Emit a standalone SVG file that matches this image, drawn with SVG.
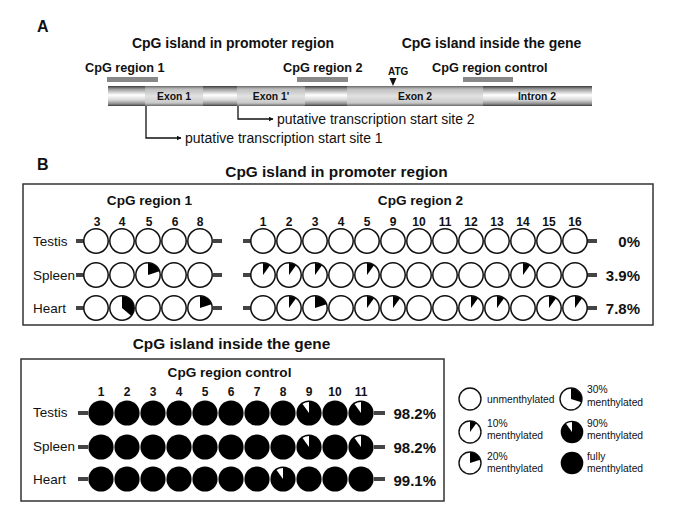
<svg xmlns="http://www.w3.org/2000/svg" xmlns:xlink="http://www.w3.org/1999/xlink" width="685" height="522" viewBox="0 0 685 522">
<style>
text{font-family:"Liberation Sans",Arial,sans-serif;fill:#111}
.b{font-weight:bold}
.panel{font-size:16px;font-weight:bold}
.tA{font-size:14px;font-weight:bold}
.tB{font-size:15.4px;font-weight:bold}
.rA{font-size:12.7px;font-weight:bold}
.rB{font-size:13.6px;font-weight:bold}
.ex{font-size:10.4px;font-weight:bold}
.num{font-size:12px;font-weight:bold;text-anchor:middle}
.row{font-size:13.5px}
.pct{font-size:15px;font-weight:bold;text-anchor:end}
.lg{font-size:10.3px}
.site{font-size:14px}
.cg{fill:#888}
.c{fill:#fff;stroke:#111;stroke-width:1.5}
.lc{fill:#fff;stroke:#111;stroke-width:1.4}
.k{fill:#000}
.tick{stroke:#444;stroke-width:4}
.box{fill:none;stroke:#333;stroke-width:1.5}
.cn{fill:none;stroke:#111;stroke-width:1.3}
</style>
<defs>
<linearGradient id="cyl" x1="0" y1="0" x2="0" y2="1">
<stop offset="0" stop-color="#3a3a3a"/><stop offset="0.15" stop-color="#9a9a9a"/><stop offset="0.45" stop-color="#ffffff"/><stop offset="0.7" stop-color="#d8d8d8"/><stop offset="0.9" stop-color="#8a8a8a"/><stop offset="1" stop-color="#3a3a3a"/>
</linearGradient>
<linearGradient id="exn" x1="0" y1="0" x2="0" y2="1">
<stop offset="0" stop-color="#6a6a6a"/><stop offset="0.15" stop-color="#bdbdbd"/><stop offset="0.5" stop-color="#e2e2e2"/><stop offset="0.85" stop-color="#c8c8c8"/><stop offset="1" stop-color="#6a6a6a"/>
</linearGradient>
<marker id="ar" viewBox="0 0 10 10" refX="9" refY="5" markerWidth="5" markerHeight="5" orient="auto" markerUnits="userSpaceOnUse">
<path d="M0,0 L10,5 L0,10 Z" fill="#111"/>
</marker>
<path id="w10" class="k" d="M0,0 V-12 A12,12 0 0 1 7.05,-9.71 Z"/>
<path id="w20" class="k" d="M0,0 V-12 A12,12 0 0 1 11.41,-3.71 Z"/>
<path id="w30" class="k" d="M0,0 V-12 A12,12 0 0 1 11.41,3.71 Z"/>
<path id="w36" class="k" d="M0,0 V-12 A12,12 0 0 1 9.19,7.71 Z"/>
<path id="ww" fill="#fff" d="M0,0 L-6.47,-8.9 A11,11 0 0 1 0,-11 Z"/>
</defs>
<rect width="685" height="522" fill="#fff"/>

<g id="panelA">
<text class="panel" x="37" y="32">A</text>
<text class="tA" x="233" y="48" text-anchor="middle">CpG island in promoter region</text>
<text class="tA" x="491.5" y="48" text-anchor="middle">CpG island inside the gene</text>
<g id="cpg1"><text class="rA" x="85" y="72">CpG region 1</text><rect class="cg" x="107" y="77" width="51" height="5"/></g>
<g id="cpg2"><text class="rA" x="283" y="72">CpG region 2</text><rect class="cg" x="297" y="77" width="51" height="5"/></g>
<g id="cpgc"><text class="rA" x="432" y="72">CpG region control</text><rect class="cg" x="463" y="77" width="50" height="5"/></g>
<g id="atg"><text class="b" x="388" y="75" font-size="10">ATG</text><polygon points="389.5,78 396.5,78 393,86" fill="#111"/></g>
<g id="gene">
<rect x="108" y="86" width="37" height="20" fill="url(#cyl)"/>
<g id="exon1"><rect x="145" y="86" width="58" height="20" fill="url(#exn)"/><text class="ex" x="174" y="100" text-anchor="middle">Exon 1</text></g>
<rect x="203" y="86" width="34" height="20" fill="url(#cyl)"/>
<g id="exon1p"><rect x="237" y="86" width="68" height="20" fill="url(#exn)"/><text class="ex" x="271" y="100" text-anchor="middle">Exon 1'</text></g>
<rect x="305" y="86" width="42" height="20" fill="url(#cyl)"/>
<g id="exon2"><rect x="347" y="86" width="136" height="20" fill="url(#exn)"/><text class="ex" x="415" y="100" text-anchor="middle">Exon 2</text></g>
<g id="intron2"><rect x="483" y="86" width="109" height="20" fill="url(#cyl)"/><text class="ex" x="537" y="100" text-anchor="middle">Intron 2</text></g>
</g>
<g id="connectors">
<path class="cn" d="M146,106 V138 H181" marker-end="url(#ar)"/>
<path class="cn" d="M238,106 V119 H273" marker-end="url(#ar)"/>
</g>
<text class="site" x="277" y="124">putative transcription start site 2</text>
<text class="site" x="185" y="143">putative transcription start site 1</text>
</g>

<g id="panelB">
<text class="panel" x="37" y="170">B</text>
<text class="tB" x="336.5" y="177" text-anchor="middle">CpG island in promoter region</text>
<rect class="box" x="23" y="184" width="630" height="141"/>
<text class="rB" x="149.5" y="205" text-anchor="middle">CpG region 1</text>
<text class="rB" x="420.5" y="205" text-anchor="middle">CpG region 2</text>
<g id="nums1">
<text class="num" x="97" y="226">3</text><text class="num" x="122" y="226">4</text><text class="num" x="149" y="226">5</text><text class="num" x="175" y="226">6</text><text class="num" x="200" y="226">8</text>
</g>
<g id="nums2">
<text class="num" x="263" y="226">1</text><text class="num" x="289" y="226">2</text><text class="num" x="315" y="226">3</text><text class="num" x="341" y="226">4</text><text class="num" x="367" y="226">5</text><text class="num" x="393" y="226">9</text><text class="num" x="419" y="226">10</text><text class="num" x="445" y="226">11</text><text class="num" x="471" y="226">12</text><text class="num" x="497" y="226">13</text><text class="num" x="523" y="226">14</text><text class="num" x="549" y="226">15</text><text class="num" x="575" y="226">16</text>
</g>
<text class="row" x="33" y="246">Testis</text>
<text class="row" x="33" y="280">Spleen</text>
<text class="row" x="33" y="313">Heart</text>
<g id="ticksB">
<line class="tick" x1="76" y1="241" x2="84" y2="241"/><line class="tick" x1="213" y1="241" x2="222" y2="241"/><line class="tick" x1="243" y1="241" x2="251" y2="241"/><line class="tick" x1="587" y1="241" x2="597" y2="241"/>
<line class="tick" x1="76" y1="275" x2="84" y2="275"/><line class="tick" x1="213" y1="275" x2="222" y2="275"/><line class="tick" x1="243" y1="275" x2="251" y2="275"/><line class="tick" x1="587" y1="275" x2="597" y2="275"/>
<line class="tick" x1="76" y1="308" x2="84" y2="308"/><line class="tick" x1="213" y1="308" x2="222" y2="308"/><line class="tick" x1="243" y1="308" x2="251" y2="308"/><line class="tick" x1="587" y1="308" x2="597" y2="308"/>
</g>
<g id="testisB">
<circle class="c" cx="96" cy="241" r="12.2"/><circle class="c" cx="122" cy="241" r="12.2"/><circle class="c" cx="148" cy="241" r="12.2"/><circle class="c" cx="174" cy="241" r="12.2"/><circle class="c" cx="200" cy="241" r="12.2"/>
<circle class="c" cx="263" cy="241" r="12.2"/><circle class="c" cx="289" cy="241" r="12.2"/><circle class="c" cx="315" cy="241" r="12.2"/><circle class="c" cx="341" cy="241" r="12.2"/><circle class="c" cx="367" cy="241" r="12.2"/><circle class="c" cx="393" cy="241" r="12.2"/><circle class="c" cx="419" cy="241" r="12.2"/><circle class="c" cx="445" cy="241" r="12.2"/><circle class="c" cx="471" cy="241" r="12.2"/><circle class="c" cx="497" cy="241" r="12.2"/><circle class="c" cx="523" cy="241" r="12.2"/><circle class="c" cx="549" cy="241" r="12.2"/><circle class="c" cx="575" cy="241" r="12.2"/>
</g>
<g id="spleenB">
<circle class="c" cx="96" cy="275" r="12.2"/><circle class="c" cx="122" cy="275" r="12.2"/><circle class="c" cx="148" cy="275" r="12.2"/><circle class="c" cx="174" cy="275" r="12.2"/><circle class="c" cx="200" cy="275" r="12.2"/>
<circle class="c" cx="263" cy="275" r="12.2"/><circle class="c" cx="289" cy="275" r="12.2"/><circle class="c" cx="315" cy="275" r="12.2"/><circle class="c" cx="341" cy="275" r="12.2"/><circle class="c" cx="367" cy="275" r="12.2"/><circle class="c" cx="393" cy="275" r="12.2"/><circle class="c" cx="419" cy="275" r="12.2"/><circle class="c" cx="445" cy="275" r="12.2"/><circle class="c" cx="471" cy="275" r="12.2"/><circle class="c" cx="497" cy="275" r="12.2"/><circle class="c" cx="523" cy="275" r="12.2"/><circle class="c" cx="549" cy="275" r="12.2"/><circle class="c" cx="575" cy="275" r="12.2"/>
<use href="#w20" x="148" y="275"/>
<use href="#w10" x="263" y="275"/><use href="#w10" x="289" y="275"/><use href="#w10" x="315" y="275"/><use href="#w10" x="367" y="275"/><use href="#w10" x="523" y="275"/>
</g>
<g id="heartB">
<circle class="c" cx="96" cy="308" r="12.2"/><circle class="c" cx="122" cy="308" r="12.2"/><circle class="c" cx="148" cy="308" r="12.2"/><circle class="c" cx="174" cy="308" r="12.2"/><circle class="c" cx="200" cy="308" r="12.2"/>
<circle class="c" cx="263" cy="308" r="12.2"/><circle class="c" cx="289" cy="308" r="12.2"/><circle class="c" cx="315" cy="308" r="12.2"/><circle class="c" cx="341" cy="308" r="12.2"/><circle class="c" cx="367" cy="308" r="12.2"/><circle class="c" cx="393" cy="308" r="12.2"/><circle class="c" cx="419" cy="308" r="12.2"/><circle class="c" cx="445" cy="308" r="12.2"/><circle class="c" cx="471" cy="308" r="12.2"/><circle class="c" cx="497" cy="308" r="12.2"/><circle class="c" cx="523" cy="308" r="12.2"/><circle class="c" cx="549" cy="308" r="12.2"/><circle class="c" cx="575" cy="308" r="12.2"/>
<use href="#w36" x="122" y="308"/><use href="#w20" x="200" y="308"/>
<use href="#w10" x="289" y="308"/><use href="#w20" x="315" y="308"/><use href="#w10" x="367" y="308"/><use href="#w10" x="393" y="308"/><use href="#w10" x="471" y="308"/><use href="#w10" x="497" y="308"/><use href="#w10" x="549" y="308"/><use href="#w10" x="575" y="308"/>
</g>
<text class="pct" x="640" y="247">0%</text>
<text class="pct" x="640" y="281">3.9%</text>
<text class="pct" x="640" y="314">7.8%</text>
</g>

<g id="panelC">
<text class="tB" x="231.5" y="349" text-anchor="middle">CpG island inside the gene</text>
<rect class="box" x="21" y="359" width="423" height="142"/>
<text class="rB" x="229.5" y="377" text-anchor="middle">CpG region control</text>
<g id="nums3">
<text class="num" x="101" y="396">1</text><text class="num" x="127" y="396">2</text><text class="num" x="153" y="396">3</text><text class="num" x="179" y="396">4</text><text class="num" x="205" y="396">5</text><text class="num" x="231" y="396">6</text><text class="num" x="257" y="396">7</text><text class="num" x="283" y="396">8</text><text class="num" x="309" y="396">9</text><text class="num" x="335" y="396">10</text><text class="num" x="361" y="396">11</text>
</g>
<text class="row" x="33" y="417">Testis</text>
<text class="row" x="33" y="451">Spleen</text>
<text class="row" x="33" y="484">Heart</text>
<g id="ticksC">
<line class="tick" x1="78" y1="413" x2="88" y2="413"/><line class="tick" x1="374" y1="413" x2="385" y2="413"/>
<line class="tick" x1="78" y1="447" x2="88" y2="447"/><line class="tick" x1="374" y1="447" x2="385" y2="447"/>
<line class="tick" x1="78" y1="479" x2="88" y2="479"/><line class="tick" x1="374" y1="479" x2="385" y2="479"/>
</g>
<g id="testisC" class="k">
<circle cx="101" cy="413" r="12.6"/><circle cx="127" cy="413" r="12.6"/><circle cx="153" cy="413" r="12.6"/><circle cx="179" cy="413" r="12.6"/><circle cx="205" cy="413" r="12.6"/><circle cx="231" cy="413" r="12.6"/><circle cx="257" cy="413" r="12.6"/><circle cx="283" cy="413" r="12.6"/><circle cx="309" cy="413" r="12.6"/><circle cx="335" cy="413" r="12.6"/><circle cx="361" cy="413" r="12.6"/>
<use href="#ww" x="309" y="413"/><use href="#ww" x="361" y="413"/>
</g>
<g id="spleenC" class="k">
<circle cx="101" cy="447" r="12.6"/><circle cx="127" cy="447" r="12.6"/><circle cx="153" cy="447" r="12.6"/><circle cx="179" cy="447" r="12.6"/><circle cx="205" cy="447" r="12.6"/><circle cx="231" cy="447" r="12.6"/><circle cx="257" cy="447" r="12.6"/><circle cx="283" cy="447" r="12.6"/><circle cx="309" cy="447" r="12.6"/><circle cx="335" cy="447" r="12.6"/><circle cx="361" cy="447" r="12.6"/>
<use href="#ww" x="309" y="447"/><use href="#ww" x="361" y="447"/>
</g>
<g id="heartC" class="k">
<circle cx="101" cy="479" r="12.6"/><circle cx="127" cy="479" r="12.6"/><circle cx="153" cy="479" r="12.6"/><circle cx="179" cy="479" r="12.6"/><circle cx="205" cy="479" r="12.6"/><circle cx="231" cy="479" r="12.6"/><circle cx="257" cy="479" r="12.6"/><circle cx="283" cy="479" r="12.6"/><circle cx="309" cy="479" r="12.6"/><circle cx="335" cy="479" r="12.6"/><circle cx="361" cy="479" r="12.6"/>
<use href="#ww" x="283" y="479"/>
</g>
<text class="pct" x="436" y="419">98.2%</text>
<text class="pct" x="436" y="453">98.2%</text>
<text class="pct" x="436" y="486">99.1%</text>
</g>

<g id="legend">
<g id="lg0"><circle class="lc" cx="470" cy="399" r="11"/><text class="lg" x="487" y="403">unmenthylated</text></g>
<g id="lg30"><circle class="lc" cx="571" cy="399" r="11"/><use href="#w30" transform="translate(571,399) scale(0.9)"/><text class="lg" x="587" y="393">30%</text><text class="lg" x="587" y="406">menthylated</text></g>
<g id="lg10"><circle class="lc" cx="470" cy="432" r="11"/><use href="#w10" transform="translate(470,432) scale(0.9)"/><text class="lg" x="487" y="427">10%</text><text class="lg" x="487" y="439">menthylated</text></g>
<g id="lg90"><circle class="k" cx="572" cy="432" r="11.3"/><use href="#ww" transform="translate(572,432) scale(0.92)"/><text class="lg" x="587" y="427">90%</text><text class="lg" x="587" y="439">menthylated</text></g>
<g id="lg20"><circle class="lc" cx="470" cy="463" r="11"/><use href="#w20" transform="translate(470,463) scale(0.9)"/><text class="lg" x="487" y="460">20%</text><text class="lg" x="487" y="472">menthylated</text></g>
<g id="lgfull"><circle class="k" cx="572" cy="463" r="11.3"/><text class="lg" x="587" y="460">fully</text><text class="lg" x="587" y="472">menthylated</text></g>
</g>
</svg>
